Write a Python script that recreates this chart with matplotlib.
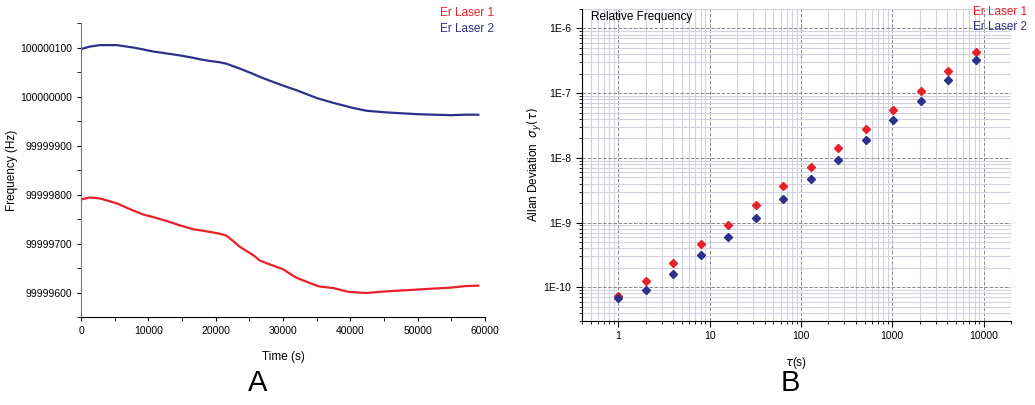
import matplotlib.pyplot as plt
import matplotlib.ticker as ticker
import numpy as np

plt.rcParams['font.family'] = ['Liberation Sans', 'DejaVu Sans']

# panel A: frequency drift
time_s = [0, 1300, 2800, 5300, 7800, 9300, 10700, 12700, 14700, 16700, 17700,
          19000, 20600, 21600, 22600, 23600, 25600, 26600, 28500, 30100, 30500,
          32000, 33500, 35000, 35500, 37500, 39500, 40000, 42400, 45000, 47400,
          50000, 52300, 55000, 57000, 59000]
laser1_hz = [99999790, 99999794, 99999792, 99999782, 99999767, 99999759, 99999754,
             99999746, 99999737, 99999729, 99999727, 99999724, 99999720, 99999716,
             99999705, 99999693, 99999676, 99999665, 99999655, 99999647, 99999643,
             99999630, 99999622, 99999614, 99999612, 99999609, 99999602, 99999601,
             99999599, 99999602, 99999604, 99999606, 99999608, 99999610, 99999613,
             99999614]
laser2_hz = [100000097, 100000102, 100000105, 100000105, 100000100, 100000096,
             100000092, 100000088, 100000084, 100000079, 100000076, 100000073,
             100000070, 100000067, 100000062, 100000057, 100000046, 100000040,
             100000030, 100000022, 100000020, 100000013, 100000005, 99999997,
             99999995, 99999987, 99999980, 99999978, 99999971, 99999968, 99999966,
             99999964, 99999963, 99999962, 99999963, 99999963]

# panel B: Allan deviation
tau = [1, 2, 4, 8, 16, 32, 64, 128, 256, 512, 1024, 2048, 4096, 8192]
adev1 = [7.4e-11, 1.25e-10, 2.4e-10, 4.7e-10, 9.3e-10, 1.85e-9, 3.7e-9, 7.3e-9,
         1.41e-8, 2.78e-8, 5.46e-8, 1.09e-7, 2.2e-7, 4.35e-7]
adev2 = [6.7e-11, 9.2e-11, 1.6e-10, 3.1e-10, 6.0e-10, 1.19e-9, 2.35e-9, 4.7e-9,
         9.3e-9, 1.88e-8, 3.78e-8, 7.5e-8, 1.58e-7, 3.24e-7]

red = '#e8202a'
blue = '#2e2f8a'

fig = plt.figure(figsize=(10.35, 4.05), dpi=100)

# ---- panel A
ax1 = fig.add_axes([0.0783, 0.2173, 0.3903, 0.7257])
ax1.plot(time_s, laser2_hz, color=blue, lw=1.6)
ax1.plot(time_s, laser1_hz, color=red, lw=1.6)
ax1.set_xlim(0, 60000)
ax1.set_ylim(99999550, 100000150)
ax1.yaxis.set_major_locator(ticker.MultipleLocator(100))
ax1.yaxis.set_minor_locator(ticker.MultipleLocator(50))
ax1.xaxis.set_major_locator(ticker.MultipleLocator(10000))
ax1.xaxis.set_minor_locator(ticker.MultipleLocator(5000))
ax1.yaxis.set_major_formatter(ticker.FuncFormatter(lambda v, p: '%d' % v))
ax1.spines['top'].set_visible(False)
ax1.spines['right'].set_visible(False)
ax1.spines['left'].set_color('#777777')
ax1.tick_params(which='both', direction='out', labelsize=7.5, length=3)
ax1.set_xlabel('Time (s)', fontsize=8.5)
ax1.set_ylabel('Frequency (Hz)', fontsize=8.5)
ax1.xaxis.set_label_coords(0.5, -0.116)
ax1.yaxis.set_label_coords(-0.156, 0.5)
fig.text(0.425, 0.967, 'Er Laser 1', color=red, fontsize=8.5, va='center')
fig.text(0.425, 0.928, 'Er Laser 2', color=blue, fontsize=8.5, va='center')
fig.text(0.249, 0.055, 'A', fontsize=21, ha='center', va='center')

# ---- panel B
ax2 = fig.add_axes([0.5623, 0.2074, 0.4145, 0.7704])
ax2.set_xscale('log')
ax2.set_yscale('log')
ax2.set_xlim(0.4, 20000)
ax2.set_ylim(3e-11, 2e-6)
ax2.grid(which='minor', color='#d2d2de', lw=0.8, ls='-')
ax2.grid(which='major', color='#8a8a8a', lw=0.7, ls='--')
ax2.set_axisbelow(True)
ax2.plot(tau, adev1, 'D', color=red, ms=4, mec=red)
ax2.plot(tau, adev2, 'D', color=blue, ms=4, mec=blue)
ax2.xaxis.set_major_formatter(ticker.FuncFormatter(lambda v, p: '%d' % v))
ax2.yaxis.set_major_formatter(
    ticker.FuncFormatter(lambda v, p: '1E%d' % int(round(np.log10(v)))))
ax2.xaxis.set_minor_formatter(ticker.NullFormatter())
ax2.yaxis.set_minor_formatter(ticker.NullFormatter())
ax2.spines['top'].set_visible(False)
ax2.spines['right'].set_visible(False)
ax2.tick_params(which='both', direction='out', labelsize=7.5)
ax2.tick_params(which='major', length=4)
ax2.tick_params(which='minor', length=2)
ax2.set_xlabel(r'$\tau$(s)', fontsize=8.5)
ax2.set_ylabel(r'Allan Deviation  $\sigma_y(\tau)$', fontsize=8.5)
ax2.xaxis.set_label_coords(0.5, -0.109)
ax2.yaxis.set_label_coords(-0.089, 0.5)
ax2.text(0.02, 0.995, 'Relative Frequency', transform=ax2.transAxes,
         fontsize=8.5, va='top')
fig.text(0.940, 0.970, 'Er Laser 1', color=red, fontsize=8.5, va='center')
fig.text(0.940, 0.933, 'Er Laser 2', color=blue, fontsize=8.5, va='center')
fig.text(0.764, 0.055, 'B', fontsize=21, ha='center', va='center')

fig.savefig('out.png', dpi=100)
